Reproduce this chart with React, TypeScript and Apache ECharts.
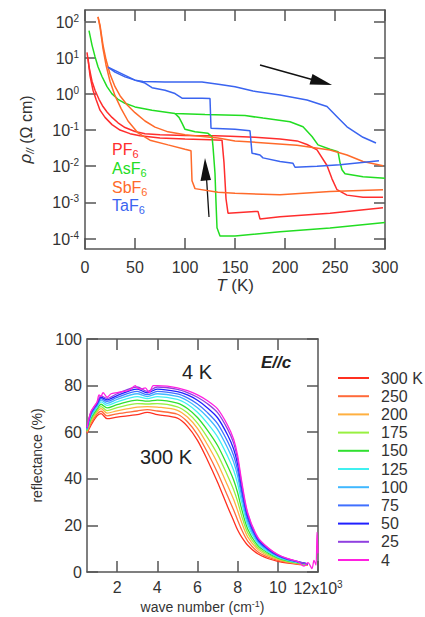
import React, { useEffect, useRef } from "react";
import * as echarts from "echarts";

// ---------- Top panel: resistivity vs temperature (log10 of rho) ----------
const rhoExponents = [-4, -3, -2, -1, 0, 1, 2];
const tempTickStep = 50;

const pf6A = [[2,1.15],[4,0.75],[7,0.35],[10,0.1],[14,-0.15],[18,-0.35],[22,-0.5],[27,-0.65],[33,-0.8],[40,-0.93],[50,-1.04],[60,-1.1],[75,-1.13],[100,-1.15],[130,-1.16],[145,-1.17],[170,-1.2],[195,-1.25],[212,-1.3],[222,-1.4],[232,-1.55],[242,-1.98],[247,-2.35],[252,-2.65],[262,-2.8],[278,-2.86],[298,-2.86]];
const pf6B = [[3,1.0],[5,0.5],[8,0.1],[11,-0.15],[15,-0.45],[20,-0.65],[27,-0.85],[35,-1.0],[45,-1.1],[55,-1.16],[75,-1.22],[100,-1.25],[125,-1.27],[137,-1.28],[139,-1.9],[141,-2.9],[143,-3.3],[170,-3.25],[173,-3.25],[175,-3.46],[195,-3.4],[245,-3.3],[298,-3.15]];
const asf6A = [[4,1.75],[7,1.35],[10,1.03],[13,0.75],[17,0.48],[22,0.2],[27,0.0],[33,-0.15],[40,-0.26],[50,-0.36],[67,-0.45],[90,-0.54],[120,-0.57],[160,-0.6],[178,-0.67],[205,-0.77],[218,-0.91],[227,-1.18],[233,-1.41],[245,-1.53],[253,-1.6],[255,-1.9],[257,-2.1],[260,-2.21],[278,-2.29],[300,-2.33]];
const asf6B = [[90,-0.54],[94,-0.65],[97,-0.81],[100,-0.98],[110,-1.05],[123,-1.09],[127,-1.18],[128,-1.46],[130,-2.2],[131,-3.0],[132,-3.7],[135,-3.93],[150,-3.93],[195,-3.81],[245,-3.71],[300,-3.56]];
const sbf6A = [[13,2.13],[15,1.9],[18,1.35],[21,0.95],[25,0.55],[30,0.2],[35,-0.05],[42,-0.3],[50,-0.52],[60,-0.75],[70,-0.92],[83,-1.05],[100,-1.13],[133,-1.22],[150,-1.3],[212,-1.42],[245,-1.55],[262,-1.69],[278,-1.87],[298,-1.99]];
const sbf6B = [[13,2.13],[15,1.85],[18,1.25],[21,0.8],[25,0.35],[30,-0.05],[36,-0.4],[43,-0.75],[53,-1.08],[65,-1.28],[83,-1.41],[100,-1.53],[106,-1.57],[107,-2.4],[110,-2.62],[133,-2.72],[150,-2.75],[195,-2.79],[245,-2.7],[298,-2.65]];
const taf6A = [[23,0.74],[30,0.6],[40,0.47],[50,0.38],[58,0.34],[80,0.33],[117,0.33],[135,0.26],[150,0.2],[168,0.08],[195,-0.03],[222,-0.17],[242,-0.35],[252,-0.63],[262,-0.91],[278,-1.2],[291,-1.36]];
const taf6B = [[23,0.74],[50,0.38],[60,0.3],[67,0.17],[80,0.1],[90,0.01],[97,-0.12],[117,-0.12],[125,-0.13],[126,-0.95],[150,-0.98],[165,-1.02],[167,-1.64],[175,-1.69],[178,-1.77],[195,-1.87],[208,-1.92],[210,-2.03],[232,-2.0],[255,-1.96],[294,-1.85]];

const compounds = ["PF", "AsF", "SbF", "TaF"];
const compoundColors = ["#ff2d2d", "#22dd22", "#ff6a2a", "#3a64f0"];

// ---------- Bottom panel: reflectance vs wave number ----------
const waveNumber = [0.5,0.7,1.0,1.2,1.5,2.0,3.0,3.5,4.0,5.0,5.5,6.0,6.5,7.0,7.5,7.8,8.0,8.2,8.5,9.0,9.5,10,10.5,11,11.5];
const r300 = [59.5,63,67,68,65.8,66.5,67.5,68.5,67.5,66,62.5,56.5,48,38.5,28,22,18,15,11.5,7.8,5.8,4.6,3.8,3.3,3.0];
const r250 = [59.8,63.8,67.8,69.0,67.0,67.9,69.1,69.7,69.1,67.7,64.5,59.0,51.3,42.6,32.6,26.6,22.2,18.1,13.3,8.7,6.4,5.0,4.1,3.5,3.1];
const r200 = [60.2,64.6,68.6,70.1,68.2,69.2,70.8,71.0,70.8,69.4,66.5,61.6,54.6,46.7,37.1,31.1,26.3,21.2,15.1,9.7,7.0,5.4,4.3,3.6,3.1];
const r175 = [60.5,65.3,69.3,71.0,69.3,70.5,72.3,72.1,72.3,70.9,68.3,63.9,57.7,50.5,41.3,35.3,30.2,24.1,16.8,10.5,7.6,5.7,4.5,3.8,3.2];
const r150 = [60.8,66,70,72,70.4,71.8,73.8,73.3,73.8,72.5,70.2,66.3,60.8,54.3,45.5,39.5,34,27,18.5,11.4,8.2,6.1,4.8,3.9,3.3];
const r125 = [61.1,66.7,70.7,73.0,71.5,73.0,75.3,74.4,75.3,74.1,72.0,68.6,63.8,58.0,49.7,43.7,37.8,29.9,20.2,12.3,8.7,6.4,5.0,4.0,3.3];
const r100 = [61.3,67.3,71.3,73.8,72.4,74.1,76.5,75.3,76.5,75.4,73.5,70.5,66.4,61.2,53.2,47.2,41.0,32.3,21.6,13.0,9.2,6.7,5.2,4.2,3.4];
const r75 = [61.5,67.8,71.8,74.4,73.2,74.9,77.5,76.1,77.5,76.4,74.7,72.1,68.4,63.7,56,50,43.6,34.2,22.7,13.6,9.6,6.9,5.3,4.3,3.4];
const r50 = [61.7,68.3,72.3,75.0,73.9,75.7,78.5,76.9,78.5,77.4,76.0,73.7,70.4,66.2,58.8,52.8,46.2,36.1,23.8,14.1,9.9,7.2,5.5,4.4,3.4];
const r25 = [61.9,68.7,72.7,75.6,74.5,76.5,79.4,77.5,79.4,78.4,77.0,75.0,72.2,68.4,61.3,55.3,48.4,37.8,24.8,14.6,10.3,7.4,5.6,4.4,3.5];
const waveNumber4K = [0.5,0.6,0.7,0.85,1.0,1.1,1.2,1.3,1.5,1.7,2.0,2.3,2.6,2.9,3.0,3.2,3.4,3.6,3.8,4.0,4.5,5.0,5.5,6.0,6.5,7.0,7.5,7.8,8.0,8.2,8.5,9.0,9.5,10,10.5,11,11.3,11.5,11.7,11.8,11.9,11.95,12];
const r4 = [62,66,69,71,73,76,75.5,77,75,76.5,77,77.5,78,80,79,78.5,79,77,80,80,79.8,79,77.8,76,73.5,70,63,57,50,39,25.5,15,10.5,7.5,5.7,4.5,2.5,4,1.5,5,3,17,8];

const tempLabels = ["300 K","250","200","175","150","125","100","75","50","25","4"];
const tempColors = ["#ff3020","#ff6a3a","#ffb040","#98f040","#30e030","#40f0f0","#40b8ff","#4070ff","#2020ff","#9040e0","#ff20e0"];
const reflectanceCurves = [r300, r250, r200, r175, r150, r125, r100, r75, r50, r25];
const waveTicks = [2, 4, 6, 8, 10, 12];

const FONT = "'Liberation Sans', Arial, sans-serif";
const AX = "#555";
const TXT = "#333";

export default function App() {
  const ref = useRef<HTMLDivElement>(null);
  useEffect(() => {
    if (!ref.current) return;
    const chart = echarts.init(ref.current, undefined, { renderer: "svg" });
    const topData = [
      [pf6A, 0], [pf6B, 0], [asf6A, 1], [asf6B, 1], [sbf6A, 2], [sbf6B, 2], [taf6A, 3], [taf6B, 3],
    ] as [number[][], number][];
    const topSeries = topData.map(([d, c], i) => ({
      type: "line",
      name: compounds[c] + "6-" + i,
      xAxisIndex: 0,
      yAxisIndex: 0,
      data: d,
      showSymbol: false,
      silent: true,
      lineStyle: { color: compoundColors[c], width: 1.5 },
      itemStyle: { color: compoundColors[c] },
    }));
    const bottomSeries = tempLabels.map((name, i) => ({
      type: "line",
      name,
      xAxisIndex: 2,
      yAxisIndex: 2,
      data: i < 10 ? waveNumber.map((w, j) => [w, reflectanceCurves[i][j]]) : waveNumber4K.map((w, j) => [w, r4[j]]),
      showSymbol: false,
      silent: true,
      smooth: 0.3,
      lineStyle: { color: tempColors[i], width: 1.3 },
      itemStyle: { color: tempColors[i] },
    }));
    const axisCommon = {
      axisLine: { show: true, onZero: false, lineStyle: { color: AX, width: 1.5 } },
      axisTick: { show: true, inside: true, length: 11, lineStyle: { color: AX, width: 1.5 } },
      splitLine: { show: false },
    };
    const labelStyle = { color: TXT, fontSize: 16, fontFamily: FONT };
    const supRich = {
      b: { fontSize: 16, color: TXT, fontFamily: FONT, verticalAlign: "bottom" },
      s: { fontSize: 10, color: TXT, fontFamily: FONT, verticalAlign: "bottom", padding: [0, 0, 7, 0] },
    };
    const subText = (t: string, x: number, y: number, color: string) => ({
      type: "text",
      x, y,
      style: {
        text: `{b|${t}}{s|6}`,
        align: "left",
        verticalAlign: "middle",
        rich: {
          b: { fontSize: 16, fill: color, fontFamily: FONT, verticalAlign: "top" },
          s: { fontSize: 11, fill: color, fontFamily: FONT, verticalAlign: "top", padding: [7, 0, 0, 0] },
        },
      },
    });
    const option: any = {
      animation: false,
      backgroundColor: "#fff",
      grid: [
        { left: 85, top: 10, width: 300, height: 239, outerBoundsMode: "none" },
        { left: 87, top: 339, width: 231, height: 233, outerBoundsMode: "none" },
      ],
      xAxis: [
        {
          type: "value", gridIndex: 0, min: 0, max: 300, interval: tempTickStep, position: "bottom",
          ...axisCommon,
          axisLabel: { ...labelStyle, margin: 10 },
          name: "{i|T}{n| (K)}", nameLocation: "middle", nameGap: 28,
          nameTextStyle: {
            rich: {
              i: { fontSize: 17, fontStyle: "italic", color: TXT, fontFamily: FONT },
              n: { fontSize: 17, color: TXT, fontFamily: FONT },
            },
          },
        },
        {
          type: "value", gridIndex: 0, min: 0, max: 300, interval: tempTickStep, position: "top",
          ...axisCommon, axisLabel: { show: false },
        },
        {
          type: "value", gridIndex: 1, min: 0.5, max: 12, position: "bottom",
          ...axisCommon,
          axisTick: { ...axisCommon.axisTick, customValues: waveTicks },
          axisLabel: {
            customValues: waveTicks, margin: 7,
            formatter: (v: number) => (v === 12 ? `{b|12x10}{s|3}` : `{b|${v}}`),
            rich: supRich,
          },
          name: "{n|wave number (cm}{s|-1}{n|)}", nameLocation: "middle", nameGap: 27,
          nameTextStyle: {
            rich: {
              n: { fontSize: 14, color: TXT, fontFamily: FONT, verticalAlign: "bottom" },
              s: { fontSize: 9, color: TXT, fontFamily: FONT, verticalAlign: "bottom", padding: [0, 0, 6, 0] },
            },
          },
        },
        {
          type: "value", gridIndex: 1, min: 0.5, max: 12, position: "top",
          ...axisCommon,
          axisTick: { ...axisCommon.axisTick, customValues: [2, 4, 6, 8, 10] },
          axisLabel: { show: false },
        },
      ],
      yAxis: [
        {
          type: "value", gridIndex: 0, min: -4.29, max: 2.32, position: "left",
          ...axisCommon,
          axisTick: { ...axisCommon.axisTick, customValues: rhoExponents },
          axisLabel: {
            customValues: rhoExponents, margin: 6,
            formatter: (v: number) => `{b|10}{s|${v}}`,
            rich: supRich,
          },
          name: "{i|ρ}{s|//}{n| (Ω cm)}", nameLocation: "middle", nameGap: 50, nameRotate: 90,
          nameTextStyle: {
            rich: {
              i: { fontSize: 17, fontStyle: "italic", color: TXT, fontFamily: FONT, verticalAlign: "top" },
              s: { fontSize: 10, fontStyle: "italic", color: TXT, fontFamily: FONT, verticalAlign: "top", padding: [8, 0, 0, 0] },
              n: { fontSize: 16, color: TXT, fontFamily: FONT, verticalAlign: "top", padding: [1, 0, 0, 0] },
            },
          },
        },
        {
          type: "value", gridIndex: 0, min: -4.29, max: 2.32, position: "right",
          ...axisCommon,
          axisTick: { ...axisCommon.axisTick, customValues: rhoExponents },
          axisLabel: { show: false },
        },
        {
          type: "value", gridIndex: 1, min: 0, max: 100, interval: 20, position: "left",
          ...axisCommon,
          axisLabel: { ...labelStyle, margin: 5 },
          name: "reflectance (%)", nameLocation: "middle", nameGap: 36, nameRotate: 90,
          nameTextStyle: { fontSize: 14, color: TXT, fontFamily: FONT },
        },
        {
          type: "value", gridIndex: 1, min: 0, max: 100, interval: 20, position: "right",
          ...axisCommon, axisLabel: { show: false },
        },
      ],
      legend: {
        data: tempLabels,
        orient: "vertical",
        left: 333,
        top: 365,
        itemWidth: 31,
        itemHeight: 2,
        itemGap: 2.2,
        icon: "rect",
        selectedMode: false,
        textStyle: { fontSize: 16, lineHeight: 16, color: TXT, fontFamily: FONT, padding: [0, 0, 0, 7] },
      },
      graphic: [
        subText("PF", 112, 150, compoundColors[0]),
        subText("AsF", 112, 169, compoundColors[1]),
        subText("SbF", 112, 188, compoundColors[2]),
        subText("TaF", 112, 206, compoundColors[3]),
        { type: "line", shape: { x1: 209, y1: 217, x2: 206.5, y2: 178 }, style: { stroke: "#111", lineWidth: 1.3 } },
        { type: "polygon", shape: { points: [[205, 158], [200.5, 181], [211, 180]] }, style: { fill: "#111" } },
        { type: "line", shape: { x1: 260, y1: 65, x2: 312, y2: 79.5 }, style: { stroke: "#111", lineWidth: 1.3 } },
        { type: "polygon", shape: { points: [[332, 85], [309.5, 84.5], [312.5, 74]] }, style: { fill: "#111" } },
        {
          type: "text", x: 197, y: 372,
          style: { text: "4 K", fontSize: 20, fill: "#222", fontFamily: FONT, align: "center", verticalAlign: "middle" },
        },
        {
          type: "text", x: 166, y: 457,
          style: { text: "300 K", fontSize: 20, fill: "#222", fontFamily: FONT, align: "center", verticalAlign: "middle" },
        },
        {
          type: "text", x: 276, y: 362,
          style: { text: "E//c", fontSize: 17, fontWeight: "bold", fontStyle: "italic", fill: "#222", fontFamily: FONT, align: "center", verticalAlign: "middle" },
        },
      ],
      series: [...topSeries, ...bottomSeries],
    };
    chart.setOption(option);
    return () => chart.dispose();
  }, []);
  return (
    <div
      ref={ref}
      style={{ position: "fixed", left: 0, top: 0, width: 425, height: 617, background: "#fff" }}
    />
  );
}
